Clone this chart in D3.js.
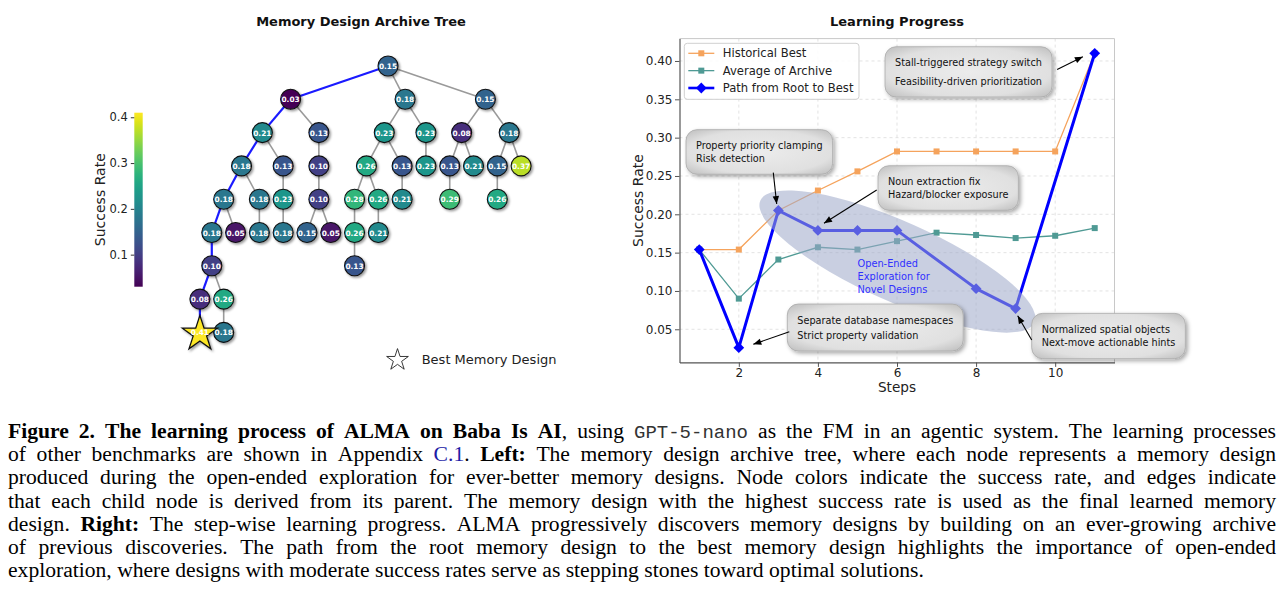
<!DOCTYPE html>
<html>
<head>
<meta charset="utf-8">
<script src="https://cdn.jsdelivr.net/npm/d3@7"></script>
<style>
  body { margin: 0; background: #fff; }
  svg { display: block; }
</style>
</head>
<body>
<svg id="fig" width="1287" height="612"></svg>
<script>
// Data ---------------------------------------------------------------------------------

// archive tree: parent index of each node (-1 = root) and its success rate
const nodeParents = [-1, 0, 0, 0, 1, 1, 2, 2, 3, 3,
  4, 4, 5, 6, 6, 7, 8, 8, 9, 9,
  10, 10, 11, 12, 13, 13, 14, 16, 18,
  20, 20, 21, 22, 23, 23, 24, 25,
  29, 35, 37, 37, 39, 40];
const nodeRates = [0.15, 0.03, 0.18, 0.15, 0.21, 0.13, 0.23, 0.23, 0.08, 0.18,
  0.18, 0.13, 0.10, 0.26, 0.13, 0.23, 0.13, 0.21, 0.15, 0.37,
  0.18, 0.18, 0.23, 0.10, 0.28, 0.26, 0.21, 0.29, 0.26,
  0.18, 0.05, 0.18, 0.18, 0.15, 0.05, 0.26, 0.21,
  0.10, 0.13, 0.08, 0.26, 0.41, 0.18];
const rateTicks = [0.1, 0.2, 0.3, 0.4];

// learning progress
const steps = [1, 2, 3, 4, 5, 6, 7, 8, 9, 10, 11];
const historicalBest = [0.154, 0.154, 0.205, 0.231, 0.256, 0.282, 0.282, 0.282, 0.282, 0.282, 0.410];
const archiveAverage = [0.154, 0.090, 0.141, 0.157, 0.154, 0.165, 0.176, 0.173, 0.169, 0.172, 0.182];
const pathSteps = [1, 2, 3, 4, 5, 6, 8, 9, 11];
const pathRates = [0.154, 0.026, 0.205, 0.179, 0.179, 0.179, 0.103, 0.077, 0.410];
const xTicks = [2, 4, 6, 8, 10];
const yTicks = [0.05, 0.10, 0.15, 0.20, 0.25, 0.30, 0.35, 0.40];

const legendLabels = ["Historical Best", "Average of Archive", "Path from Root to Best"];
const noteLines = [
  ["Stall-triggered strategy switch", "Feasibility-driven prioritization"],
  ["Property priority clamping", "Risk detection"],
  ["Noun extraction fix", "Hazard/blocker exposure"],
  ["Separate database namespaces", "Strict property validation"],
  ["Normalized spatial objects", "Next-move actionable hints"]
];
const exploreLines = ["Open-Ended", "Exploration for", "Novel Designs"];

const captionLines = [
  "**Figure 2. The learning process of ALMA on Baba Is AI**, using `GPT-5-nano` as the FM in an agentic system. The learning processes",
  "of other benchmarks are shown in Appendix [C.1]. **Left:** The memory design archive tree, where each node represents a memory design",
  "produced during the open-ended exploration for ever-better memory designs. Node colors indicate the success rate, and edges indicate",
  "that each child node is derived from its parent. The memory design with the highest success rate is used as the final learned memory",
  "design. **Right:** The step-wise learning progress. ALMA progressively discovers memory designs by building on an ever-growing archive",
  "of previous discoveries. The path from the root memory design to the best memory design highlights the importance of open-ended",
  "exploration, where designs with moderate success rates serve as stepping stones toward optimal solutions."
];

// Setup --------------------------------------------------------------------------------

var svg = d3.select("#fig");
var sans = "DejaVu Sans, sans-serif";
var defs = svg.append("defs");

var nodeShadow = defs.append("filter").attr("id", "nodeShadow")
  .attr("x", "-50%").attr("y", "-50%").attr("width", "200%").attr("height", "200%");
nodeShadow.append("feDropShadow").attr("dx", 1.6).attr("dy", 1.6).attr("stdDeviation", 0.9)
  .attr("flood-color", "#000").attr("flood-opacity", 0.4);

var boxShadow = defs.append("filter").attr("id", "boxShadow")
  .attr("x", "-20%").attr("y", "-30%").attr("width", "140%").attr("height", "160%");
boxShadow.append("feDropShadow").attr("dx", 2).attr("dy", 2).attr("stdDeviation", 2)
  .attr("flood-color", "#000").attr("flood-opacity", 0.35);

var boxFill = defs.append("radialGradient").attr("id", "boxFill").attr("r", "75%");
boxFill.append("stop").attr("offset", "0%").attr("stop-color", "#ececec");
boxFill.append("stop").attr("offset", "65%").attr("stop-color", "#e0e0e0");
boxFill.append("stop").attr("offset", "100%").attr("stop-color", "#b5b5b5");

defs.append("marker").attr("id", "arrowHead")
  .attr("viewBox", "0 0 10 10").attr("refX", 10).attr("refY", 5)
  .attr("markerUnits", "userSpaceOnUse").attr("markerWidth", 9).attr("markerHeight", 8)
  .attr("orient", "auto")
  .append("path").attr("d", "M0,1 L10,5 L0,9 z").attr("fill", "#000");

// Left: Memory Design Archive Tree -----------------------------------------------------

var color = d3.scaleSequential(d3.interpolateViridis).domain(d3.extent(nodeRates));

var table = nodeRates.map(function (r, i) {
  return { id: "n" + i, parentId: nodeParents[i] < 0 ? null : "n" + nodeParents[i], rate: r };
});
var root = d3.stratify().id(d => d.id).parentId(d => d.parentId)(table);
d3.tree().size([345, 266.4]).separation(function () { return 1; })(root);

var best = root.descendants().reduce((a, b) => (b.data.rate > a.data.rate ? b : a));
var onPath = new Set(best.ancestors().map(d => d.id));

var tree = svg.append("g").attr("transform", "translate(188,66)");

var links = root.links();
tree.append("g").selectAll("line")
  .data(links.filter(l => !onPath.has(l.target.id)))
  .enter().append("line")
  .attr("x1", d => d.source.x).attr("y1", d => d.source.y)
  .attr("x2", d => d.target.x).attr("y2", d => d.target.y)
  .attr("stroke", "#9a9a9a").attr("stroke-width", 1.6);
tree.append("g").selectAll("line")
  .data(links.filter(l => onPath.has(l.target.id)))
  .enter().append("line")
  .attr("x1", d => d.source.x).attr("y1", d => d.source.y)
  .attr("x2", d => d.target.x).attr("y2", d => d.target.y)
  .attr("stroke", "#1a1aff").attr("stroke-width", 2.2);

var others = root.descendants().filter(d => d !== best);
tree.append("g").attr("filter", "url(#nodeShadow)").selectAll("circle")
  .data(others).enter().append("circle")
  .attr("cx", d => d.x).attr("cy", d => d.y).attr("r", 10)
  .attr("fill", d => color(d.data.rate))
  .attr("stroke", "#111").attr("stroke-width", 1.1);

tree.append("path")
  .attr("transform", "translate(" + best.x + "," + (best.y + 1.5) + ")")
  .attr("d", d3.symbol(d3.symbolStar).size(384)())
  .attr("fill", "#fde725").attr("stroke", "#111").attr("stroke-width", 1.3)
  .attr("filter", "url(#nodeShadow)");

tree.append("g").selectAll("text")
  .data(root.descendants()).enter().append("text")
  .attr("x", d => d.x).attr("y", d => d.y + 0.5)
  .attr("text-anchor", "middle").attr("dominant-baseline", "central")
  .attr("font-family", sans).attr("font-weight", "bold").attr("font-size", 7.4)
  .attr("fill", "#fff")
  .text(d => d3.format(".2f")(d.data.rate));

// colorbar
var cbY = d3.scaleLinear().domain(color.domain()).range([286.7, 112.7]);
var grad = defs.append("linearGradient").attr("id", "viridisBar")
  .attr("x1", 0).attr("y1", 1).attr("x2", 0).attr("y2", 0);
d3.range(0, 1.0001, 0.05).forEach(function (t) {
  grad.append("stop").attr("offset", t).attr("stop-color", d3.interpolateViridis(t));
});
svg.append("rect").attr("x", 134.3).attr("y", cbY.range()[1])
  .attr("width", 8.4).attr("height", cbY.range()[0] - cbY.range()[1])
  .attr("fill", "url(#viridisBar)");
var cbAxis = svg.append("g").attr("transform", "translate(134.3,0)")
  .call(d3.axisLeft(cbY).tickValues(rateTicks).tickSize(3.5).tickPadding(3).tickFormat(d3.format(".1f")));
cbAxis.select(".domain").remove();
cbAxis.selectAll("text").attr("font-family", sans).attr("font-size", 11.5).attr("fill", "#222");
cbAxis.selectAll("line").attr("stroke", "#333");
svg.append("text")
  .attr("transform", "translate(100,199.7) rotate(-90)")
  .attr("text-anchor", "middle").attr("dominant-baseline", "central")
  .attr("font-family", sans).attr("font-size", 14).attr("fill", "#222")
  .text("Success Rate");

// best-design legend
svg.append("path").attr("transform", "translate(397.5,360)")
  .attr("d", d3.symbol(d3.symbolStar).size(146)())
  .attr("fill", "none").attr("stroke", "#222").attr("stroke-width", 0.9);
svg.append("text").attr("x", 421.7).attr("y", 359.3).attr("dominant-baseline", "central")
  .attr("font-family", sans).attr("font-size", 13).attr("fill", "#222")
  .text("Best Memory Design");

svg.append("text").attr("x", 361).attr("y", 26)
  .attr("text-anchor", "middle").attr("font-family", sans).attr("font-weight", "bold")
  .attr("font-size", 13).attr("fill", "#111").text("Memory Design Archive Tree");

// Right: Learning Progress -------------------------------------------------------------

var xPad = 0.05 * (d3.max(steps) - d3.min(steps));
var x = d3.scaleLinear().domain([d3.min(steps) - xPad, d3.max(steps) + xPad]).range([679.5, 1114.5]);
var yLo = d3.min([d3.min(pathRates), d3.min(archiveAverage), d3.min(historicalBest)]);
var yHi = d3.max([d3.max(pathRates), d3.max(archiveAverage), d3.max(historicalBest)]);
var yPad = 0.05 * (yHi - yLo);
var y = d3.scaleLinear().domain([yLo - yPad, yHi + yPad]).range([362.4, 38.6]);

var plot = svg.append("g");

// grid
plot.append("g").selectAll("line").data(xTicks).enter().append("line")
  .attr("x1", d => x(d)).attr("x2", d => x(d)).attr("y1", y.range()[1]).attr("y2", y.range()[0])
  .attr("stroke", "#dcdcdc").attr("stroke-width", 0.8).attr("stroke-dasharray", "3,3");
plot.append("g").selectAll("line").data(yTicks).enter().append("line")
  .attr("x1", x.range()[0]).attr("x2", x.range()[1]).attr("y1", d => y(d)).attr("y2", d => y(d))
  .attr("stroke", "#dcdcdc").attr("stroke-width", 0.8).attr("stroke-dasharray", "3,3");

// spines
plot.append("line").attr("x1", x.range()[0]).attr("x2", x.range()[1])
  .attr("y1", y.range()[1]).attr("y2", y.range()[1]).attr("stroke", "#c8c8c8").attr("stroke-width", 1);
plot.append("line").attr("x1", x.range()[1]).attr("x2", x.range()[1])
  .attr("y1", y.range()[1]).attr("y2", y.range()[0]).attr("stroke", "#c8c8c8").attr("stroke-width", 1);

var xAxis = plot.append("g").attr("transform", "translate(0," + y.range()[0] + ")")
  .call(d3.axisBottom(x).tickValues(xTicks).tickSize(4.5).tickPadding(2).tickSizeOuter(0));
var yAxis = plot.append("g").attr("transform", "translate(" + x.range()[0] + ",0)")
  .call(d3.axisLeft(y).tickValues(yTicks).tickSize(4.5).tickPadding(2.5).tickSizeOuter(0).tickFormat(d3.format(".2f")));
[xAxis, yAxis].forEach(function (a) {
  a.select(".domain").attr("stroke", "#555").attr("stroke-width", 1.2);
  a.selectAll(".tick line").attr("stroke", "#555");
  a.selectAll("text").attr("font-family", sans).attr("font-size", 12).attr("fill", "#222");
});

// series
var line = d3.line().x(d => x(d[0])).y(d => y(d[1]));
var bestPts = d3.zip(steps, historicalBest);
var avgPts = d3.zip(steps, archiveAverage);
var pathPts = d3.zip(pathSteps, pathRates);
var orange = "#f5a35c", teal = "#4f9a94", blue = "#0000ff";

plot.append("path").datum(bestPts).attr("d", line)
  .attr("fill", "none").attr("stroke", orange).attr("stroke-width", 1.3);
plot.append("g").selectAll("rect").data(bestPts).enter().append("rect")
  .attr("x", d => x(d[0]) - 3).attr("y", d => y(d[1]) - 3).attr("width", 6).attr("height", 6)
  .attr("fill", orange);

plot.append("path").datum(avgPts).attr("d", line)
  .attr("fill", "none").attr("stroke", teal).attr("stroke-width", 1.3);
plot.append("g").selectAll("rect").data(avgPts).enter().append("rect")
  .attr("x", d => x(d[0]) - 3).attr("y", d => y(d[1]) - 3).attr("width", 6).attr("height", 6)
  .attr("fill", teal);

plot.append("path").datum(pathPts).attr("d", line)
  .attr("fill", "none").attr("stroke", blue).attr("stroke-width", 3).attr("stroke-linejoin", "round");
var diamond = d3.symbol(d3.symbolSquare).size(58)();
plot.append("g").selectAll("path").data(pathPts).enter().append("path")
  .attr("transform", d => "translate(" + x(d[0]) + "," + y(d[1]) + ") rotate(45)")
  .attr("d", diamond).attr("fill", blue);

// exploration highlight
var ex = x(6.01), ey = y(0.1384);
plot.append("ellipse")
  .attr("transform", "translate(" + ex + "," + ey + ") rotate(24)")
  .attr("rx", 150).attr("ry", 40)
  .attr("fill", "rgb(158,169,201)").attr("fill-opacity", 0.56);
plot.append("g").selectAll("text").data(exploreLines).enter().append("text")
  .attr("x", x(5.0)).attr("y", (d, i) => y(0.1186) + (i - 1) * 13)
  .attr("dominant-baseline", "central")
  .attr("font-family", sans).attr("font-size", 9.8).attr("fill", "#3030ff")
  .text(d => d);

// annotation boxes
var notes = [
  { at: [5.95, 0.3858], gap: 18.3, tail: [10.05, 0.389], head: [10.70, 0.4056] },
  { at: [0.917, 0.2813], gap: 12.6, tail: [2.872, 0.2543], head: [2.958, 0.2134] },
  { at: [5.773, 0.2343], gap: 12.6, tail: [5.487, 0.2317], head: [4.154, 0.1883] },
  { at: [3.479, 0.0523], gap: 15, tail: [3.277, 0.0468], head: [2.366, 0.0304] },
  { at: [9.659, 0.0412], gap: 13.4, tail: [9.406, 0.0360], head: [9.052, 0.0677] }
];
notes.forEach(function (n, k) {
  var g = plot.append("g");
  var box = g.append("rect");
  var tx = x(n.at[0]), ty = y(n.at[1]);
  var texts = g.selectAll("text").data(noteLines[k]).enter().append("text")
    .attr("x", tx).attr("y", (d, i) => ty + (i - 0.5) * n.gap)
    .attr("dominant-baseline", "central")
    .attr("font-family", sans).attr("font-size", 9.7).attr("fill", "#111")
    .text(d => d);
  var w = d3.max(texts.nodes(), t => t.getComputedTextLength());
  box.attr("x", tx - 10).attr("y", ty - n.gap / 2 - 16)
    .attr("width", w + 20).attr("height", n.gap + 32)
    .attr("rx", 11).attr("fill", "url(#boxFill)").attr("stroke", "#aaa").attr("stroke-width", 0.8)
    .attr("filter", "url(#boxShadow)");
  g.append("line")
    .attr("x1", x(n.tail[0])).attr("y1", y(n.tail[1]))
    .attr("x2", x(n.head[0])).attr("y2", y(n.head[1]))
    .attr("stroke", "#000").attr("stroke-width", 1.1)
    .attr("marker-end", "url(#arrowHead)");
});

// legend
var lg = plot.append("g").attr("transform", "translate(684.3,43.3)");
lg.append("rect").attr("width", 174.7).attr("height", 56).attr("rx", 3)
  .attr("fill", "#fff").attr("fill-opacity", 0.85).attr("stroke", "#d0d0d0");
var legendStyles = [
  { c: orange, w: 1.3, m: "square" },
  { c: teal, w: 1.3, m: "square" },
  { c: blue, w: 2.6, m: "diamond" }
];
legendLabels.forEach(function (lab, i) {
  var ry = 10 + i * 17.35;
  var s = legendStyles[i];
  lg.append("line").attr("x1", 4).attr("x2", 30).attr("y1", ry).attr("y2", ry)
    .attr("stroke", s.c).attr("stroke-width", s.w);
  if (s.m === "square") {
    lg.append("rect").attr("x", 14).attr("y", ry - 3).attr("width", 6).attr("height", 6).attr("fill", s.c);
  } else {
    lg.append("path").attr("transform", "translate(17," + ry + ") rotate(45)")
      .attr("d", diamond).attr("fill", s.c);
  }
  lg.append("text").attr("x", 38.4).attr("y", ry).attr("dominant-baseline", "central")
    .attr("font-family", sans).attr("font-size", 11.6).attr("fill", "#222").text(lab);
});

// labels
svg.append("text").attr("x", (x.range()[0] + x.range()[1]) / 2).attr("y", 392)
  .attr("text-anchor", "middle").attr("font-family", sans).attr("font-size", 13.6).attr("fill", "#222")
  .text("Steps");
svg.append("text")
  .attr("transform", "translate(638," + (y.range()[0] + y.range()[1]) / 2 + ") rotate(-90)")
  .attr("text-anchor", "middle").attr("dominant-baseline", "central")
  .attr("font-family", sans).attr("font-size", 14).attr("fill", "#222")
  .text("Success Rate");
svg.append("text").attr("x", (x.range()[0] + x.range()[1]) / 2).attr("y", 26)
  .attr("text-anchor", "middle").attr("font-family", sans).attr("font-weight", "bold")
  .attr("font-size", 13).attr("fill", "#111").text("Learning Progress");

// Caption ------------------------------------------------------------------------------

function parseLine(str) {
  var words = [], pieces = [], cur = "", style = "n";
  function flush() { if (cur) { pieces.push({ t: cur, s: style }); cur = ""; } }
  for (var i = 0; i < str.length; i++) {
    var ch = str[i];
    if (ch === "*" && str[i + 1] === "*") { flush(); style = style === "b" ? "n" : "b"; i++; continue; }
    if (ch === "`") { flush(); style = style === "m" ? "n" : "m"; continue; }
    if (ch === "[") { flush(); style = "l"; continue; }
    if (ch === "]") { flush(); style = "n"; continue; }
    if (ch === " ") { flush(); if (pieces.length) words.push(pieces); pieces = []; continue; }
    cur += ch;
  }
  flush();
  if (pieces.length) words.push(pieces);
  return words;
}

var serif = "Liberation Serif, Times New Roman, serif";
var capLeft = 8, capRight = 1276, capTop = 438, capStep = 23.2, capSize = 21.6;
var cap = svg.append("g");
captionLines.forEach(function (str, li) {
  var words = parseLine(str);
  var nodes = words.map(function (pieces) {
    var t = cap.append("text").attr("y", capTop + li * capStep)
      .attr("font-family", serif).attr("font-size", capSize).attr("fill", "#000");
    pieces.forEach(function (p) {
      var ts = t.append("tspan").text(p.t);
      if (p.s === "b") ts.attr("font-weight", "bold");
      if (p.s === "m") ts.attr("font-family", "Liberation Mono, Courier New, monospace").attr("font-size", 19).attr("fill", "#333");
      if (p.s === "l") ts.attr("fill", "#1c1ca6");
    });
    return t;
  });
  var widths = nodes.map(t => t.node().getComputedTextLength());
  var total = d3.sum(widths);
  var gap = li === captionLines.length - 1 ? capSize * 0.25 : (capRight - capLeft - total) / (nodes.length - 1);
  var cx = capLeft;
  nodes.forEach(function (t, i) {
    t.attr("x", cx);
    cx += widths[i] + gap;
  });
});
</script>
</body>
</html>
